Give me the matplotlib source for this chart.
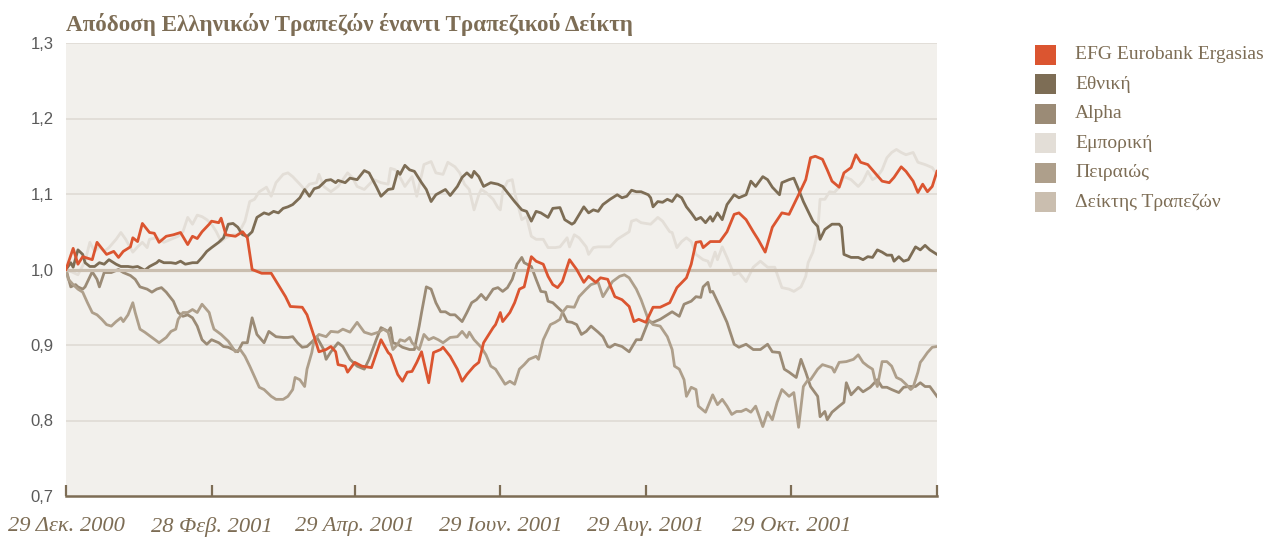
import numpy as np
import matplotlib.pyplot as plt
from matplotlib.patches import Rectangle

# ---------------------------------------------------------------------------
# Data (days since 29 Dec 2000, index value with base 1.0)
# ---------------------------------------------------------------------------

start = np.datetime64("2000-12-29")
tick_dates = ["2000-12-29", "2001-02-28", "2001-04-29", "2001-06-29",
              "2001-08-29", "2001-10-29", "2001-12-29"]
tick_labels = ["29 Δεκ. 2000", "28 Φεβ. 2001", "29 Απρ. 2001", "29 Ιουν. 2001",
               "29 Αυγ. 2001", "29 Οκτ. 2001", ""]
y_ticks = [0.7, 0.8, 0.9, 1.0, 1.1, 1.2, 1.3]
y_labels = ["0,7", "0,8", "0,9", "1,0", "1,1", "1,2", "1,3"]

names = ["EFG Eurobank Ergasias", "Εθνική", "Alpha", "Εμπορική", "Πειραιώς", "Δείκτης Τραπεζών"]
colors = ["#DB5530", "#7D6D55", "#9B8B76", "#E3DED7", "#AE9F8B", "#CABEAF"]

efg_days = [0, 3, 5, 7, 11, 13, 17, 20, 22, 24, 27, 28, 30, 32, 35, 37, 39, 42, 45, 48,
            51, 53, 55, 57, 60, 61, 64, 65, 67, 71, 74, 76, 78, 82, 86, 92, 94, 99, 101, 104,
            106, 109, 111, 113, 114, 117, 118, 121, 124, 128, 132, 135, 136, 139, 141, 143, 145, 147, 149, 152,
            154, 157, 158, 161, 164, 166, 168, 171, 173, 175, 178, 179, 180, 182, 183, 186, 188, 190, 192, 195,
            197, 200, 202, 204, 206, 208, 211, 214, 217, 219, 222, 224, 227, 230, 233, 236, 238, 240, 243, 246,
            249, 253, 256, 260, 262, 264, 266, 267, 270, 274, 277, 280, 282, 285, 288, 290, 293, 296, 300, 303,
            307, 310, 312, 314, 317, 319, 321, 324, 326, 329, 331, 333, 336, 339, 342, 345, 347, 350, 352, 355,
            357, 359, 361, 363, 365]
efg_vals = [1.000, 1.028, 1.007, 1.017, 1.013, 1.036, 1.020, 1.024, 1.016, 1.024, 1.030, 1.042, 1.037, 1.061, 1.049, 1.048, 1.036, 1.044, 1.046, 1.049,
            1.033, 1.044, 1.041, 1.050, 1.060, 1.064, 1.062, 1.068, 1.046, 1.044, 1.050, 1.042, 1.000, 0.995, 0.995, 0.964, 0.951, 0.950, 0.940, 0.911,
            0.891, 0.894, 0.898, 0.891, 0.874, 0.872, 0.864, 0.877, 0.872, 0.870, 0.907, 0.890, 0.887, 0.861, 0.852, 0.864, 0.865, 0.877, 0.891, 0.850,
            0.890, 0.894, 0.897, 0.885, 0.868, 0.852, 0.861, 0.872, 0.877, 0.903, 0.918, 0.923, 0.927, 0.943, 0.931, 0.943, 0.956, 0.974, 0.977, 1.017,
            1.011, 1.007, 0.991, 0.980, 0.976, 0.984, 1.013, 1.000, 0.983, 0.991, 0.983, 0.989, 0.987, 0.964, 0.960, 0.951, 0.931, 0.934, 0.930, 0.950,
            0.950, 0.956, 0.976, 0.989, 1.007, 1.036, 1.037, 1.029, 1.037, 1.037, 1.050, 1.073, 1.075, 1.066, 1.050, 1.040, 1.023, 1.056, 1.075, 1.073,
            1.099, 1.119, 1.148, 1.150, 1.146, 1.132, 1.117, 1.109, 1.128, 1.135, 1.152, 1.142, 1.139, 1.128, 1.117, 1.115, 1.122, 1.136, 1.130, 1.117,
            1.102, 1.113, 1.103, 1.110, 1.130]

eth_days = [0, 2, 3, 5, 7, 8, 10, 12, 14, 16, 18, 21, 23, 26, 28, 30, 33, 35, 38, 39,
            41, 44, 46, 48, 50, 53, 55, 57, 59, 61, 64, 66, 68, 70, 72, 74, 76, 78, 80, 83,
            85, 87, 89, 91, 93, 95, 98, 100, 102, 104, 106, 109, 111, 113, 114, 117, 119, 122, 125, 127,
            130, 132, 135, 137, 139, 140, 142, 144, 146, 149, 151, 153, 155, 159, 161, 164, 166, 168, 170, 171,
            173, 175, 178, 181, 183, 185, 188, 191, 193, 195, 197, 199, 202, 204, 207, 209, 212, 213, 217, 219,
            221, 223, 225, 228, 231, 233, 235, 237, 239, 241, 244, 245, 246, 248, 250, 252, 254, 256, 258, 260,
            262, 264, 266, 268, 270, 271, 273, 275, 277, 280, 282, 285, 287, 289, 292, 294, 296, 299, 300, 303,
            305, 307, 309, 311, 313, 315, 316, 318, 321, 324, 325, 326, 329, 332, 334, 336, 338, 340, 342, 344,
            346, 347, 349, 351, 353, 356, 358, 360, 362, 365]
eth_vals = [1.000, 1.009, 1.003, 1.026, 1.020, 1.009, 1.004, 1.004, 1.009, 1.007, 1.013, 1.007, 1.004, 1.004, 1.003, 1.004, 0.999, 1.004, 1.009, 1.012,
            1.009, 1.009, 1.008, 1.011, 1.007, 1.009, 1.009, 1.016, 1.024, 1.029, 1.036, 1.042, 1.060, 1.061, 1.056, 1.046, 1.044, 1.050, 1.069, 1.075,
            1.073, 1.077, 1.075, 1.081, 1.083, 1.086, 1.095, 1.106, 1.097, 1.107, 1.109, 1.118, 1.119, 1.115, 1.118, 1.115, 1.121, 1.119, 1.131, 1.128,
            1.110, 1.097, 1.106, 1.107, 1.130, 1.126, 1.138, 1.132, 1.130, 1.115, 1.106, 1.090, 1.099, 1.106, 1.098, 1.110, 1.122, 1.128, 1.122, 1.130,
            1.123, 1.110, 1.115, 1.113, 1.110, 1.102, 1.090, 1.079, 1.077, 1.064, 1.077, 1.075, 1.069, 1.081, 1.082, 1.066, 1.060, 1.062, 1.083, 1.075,
            1.079, 1.077, 1.086, 1.093, 1.099, 1.095, 1.097, 1.105, 1.103, 1.103, 1.099, 1.095, 1.083, 1.090, 1.089, 1.093, 1.090, 1.099, 1.095, 1.083,
            1.075, 1.066, 1.069, 1.062, 1.070, 1.064, 1.075, 1.066, 1.086, 1.099, 1.095, 1.099, 1.117, 1.110, 1.123, 1.119, 1.109, 1.099, 1.115, 1.119,
            1.121, 1.106, 1.090, 1.077, 1.064, 1.057, 1.040, 1.053, 1.060, 1.060, 1.056, 1.020, 1.016, 1.016, 1.013, 1.017, 1.016, 1.026, 1.023, 1.019,
            1.019, 1.011, 1.017, 1.011, 1.013, 1.030, 1.026, 1.032, 1.026, 1.020]

alpha_days = [0, 2, 4, 5, 7, 8, 11, 13, 14, 16, 19, 22, 24, 27, 29, 31, 34, 36, 38, 40,
              42, 45, 47, 49, 51, 53, 55, 57, 59, 61, 64, 66, 68, 70, 72, 74, 76, 78, 80, 83,
              85, 88, 91, 93, 95, 97, 99, 101, 104, 105, 108, 109, 111, 114, 116, 119, 122, 125, 127, 130,
              132, 135, 136, 137, 139, 141, 144, 146, 148, 149, 151, 153, 155, 157, 159, 161, 163, 166, 168, 170,
              172, 174, 176, 179, 181, 183, 185, 187, 189, 191, 192, 195, 197, 199, 201, 202, 204, 206, 208, 210,
              212, 214, 216, 218, 220, 223, 225, 227, 228, 230, 233, 236, 239, 241, 244, 246, 249, 252, 254, 257,
              259, 262, 264, 266, 267, 269, 270, 271, 274, 277, 280, 282, 285, 288, 291, 294, 296, 299, 301, 303,
              306, 308, 310, 312, 315, 316, 318, 319, 321, 324, 326, 327, 329, 332, 334, 337, 340, 342, 344, 346,
              349, 351, 353, 356, 358, 360, 362, 365]
alpha_vals = [1.000, 0.977, 0.980, 0.977, 0.974, 0.977, 0.997, 0.987, 0.977, 0.996, 0.996, 1.000, 0.996, 0.992, 0.987, 0.977, 0.974, 0.970, 0.974, 0.976,
              0.970, 0.958, 0.943, 0.938, 0.940, 0.936, 0.925, 0.907, 0.901, 0.907, 0.903, 0.898, 0.897, 0.894, 0.891, 0.903, 0.903, 0.936, 0.914, 0.903,
              0.918, 0.911, 0.910, 0.910, 0.911, 0.903, 0.897, 0.898, 0.907, 0.911, 0.894, 0.881, 0.891, 0.903, 0.898, 0.881, 0.872, 0.868, 0.881, 0.907,
              0.923, 0.918, 0.923, 0.903, 0.901, 0.897, 0.894, 0.894, 0.925, 0.943, 0.977, 0.974, 0.956, 0.944, 0.944, 0.940, 0.940, 0.931, 0.943, 0.956,
              0.960, 0.967, 0.960, 0.974, 0.976, 0.971, 0.976, 0.987, 1.007, 1.016, 1.009, 1.004, 0.987, 0.971, 0.970, 0.958, 0.956, 0.950, 0.944, 0.931,
              0.930, 0.927, 0.914, 0.918, 0.925, 0.917, 0.911, 0.898, 0.897, 0.901, 0.898, 0.891, 0.907, 0.907, 0.931, 0.930, 0.934, 0.940, 0.944, 0.938,
              0.954, 0.958, 0.964, 0.963, 0.977, 0.983, 0.970, 0.971, 0.951, 0.930, 0.901, 0.897, 0.901, 0.894, 0.894, 0.901, 0.891, 0.890, 0.868, 0.864,
              0.857, 0.881, 0.864, 0.845, 0.832, 0.805, 0.812, 0.801, 0.811, 0.819, 0.824, 0.850, 0.834, 0.844, 0.838, 0.844, 0.854, 0.844, 0.844, 0.841,
              0.837, 0.844, 0.845, 0.845, 0.850, 0.845, 0.845, 0.832]

emp_days = [0, 3, 5, 8, 10, 12, 14, 16, 18, 21, 23, 25, 28, 30, 32, 34, 35, 38, 41, 44,
            47, 49, 51, 53, 55, 57, 59, 61, 63, 65, 67, 70, 72, 75, 77, 79, 81, 84, 86, 88,
            91, 93, 95, 98, 100, 102, 105, 106, 108, 111, 114, 116, 118, 120, 122, 125, 129, 132, 135, 136,
            138, 140, 142, 145, 147, 150, 153, 155, 158, 160, 163, 165, 167, 169, 171, 173, 174, 176, 179, 181,
            182, 183, 185, 187, 188, 191, 193, 195, 197, 200, 202, 205, 207, 210, 211, 213, 215, 218, 219, 221,
            223, 225, 228, 231, 233, 236, 237, 239, 241, 245, 248, 250, 253, 254, 256, 258, 260, 262, 264, 267,
            269, 270, 272, 273, 275, 277, 280, 282, 285, 288, 291, 294, 297, 300, 303, 305, 308, 310, 311, 313,
            315, 316, 318, 320, 322, 324, 326, 329, 332, 334, 336, 338, 340, 342, 344, 346, 348, 350, 352, 355,
            357, 360, 363, 365]
emp_vals = [1.000, 0.996, 0.993, 1.011, 1.036, 1.024, 1.030, 1.024, 1.029, 1.040, 1.049, 1.040, 1.023, 1.030, 1.036, 1.029, 1.040, 1.042, 1.036, 1.040,
            1.044, 1.050, 1.069, 1.060, 1.072, 1.070, 1.066, 1.060, 1.050, 1.037, 1.042, 1.046, 1.046, 1.064, 1.090, 1.093, 1.103, 1.109, 1.097, 1.115,
            1.126, 1.128, 1.123, 1.113, 1.106, 1.113, 1.115, 1.126, 1.110, 1.103, 1.110, 1.119, 1.128, 1.122, 1.110, 1.106, 1.119, 1.115, 1.113, 1.134,
            1.132, 1.122, 1.110, 1.123, 1.097, 1.139, 1.143, 1.128, 1.126, 1.142, 1.136, 1.128, 1.113, 1.106, 1.079, 1.099, 1.106, 1.102, 1.093, 1.082,
            1.079, 1.103, 1.117, 1.119, 1.102, 1.066, 1.070, 1.044, 1.040, 1.040, 1.029, 1.029, 1.030, 1.042, 1.030, 1.046, 1.042, 1.030, 1.020, 1.029,
            1.030, 1.030, 1.030, 1.040, 1.044, 1.050, 1.064, 1.066, 1.062, 1.060, 1.069, 1.064, 1.050, 1.049, 1.029, 1.037, 1.042, 1.037, 1.020, 1.013,
            1.011, 1.004, 1.023, 1.013, 1.030, 1.016, 0.993, 0.996, 0.984, 1.003, 1.011, 1.003, 1.003, 0.976, 0.974, 0.971, 0.977, 0.991, 1.009, 1.023,
            1.049, 1.093, 1.093, 1.103, 1.102, 1.109, 1.123, 1.119, 1.110, 1.117, 1.130, 1.119, 1.123, 1.132, 1.148, 1.155, 1.159, 1.155, 1.152, 1.155,
            1.142, 1.139, 1.135, 1.126]

pir_days = [0, 1, 3, 5, 7, 9, 11, 13, 15, 17, 19, 21, 23, 24, 26, 28, 29, 31, 33, 36,
            39, 42, 44, 46, 47, 49, 51, 53, 55, 57, 60, 61, 62, 65, 68, 71, 73, 75, 77, 79,
            81, 83, 86, 88, 91, 93, 95, 96, 98, 100, 101, 103, 104, 106, 109, 111, 114, 116, 119, 122,
            125, 128, 131, 133, 135, 137, 139, 140, 142, 144, 145, 148, 150, 152, 154, 156, 158, 161, 164, 166,
            168, 169, 171, 174, 176, 178, 180, 182, 184, 186, 188, 190, 192, 194, 197, 198, 200, 203, 205, 207,
            208, 210, 213, 215, 218, 220, 223, 225, 227, 229, 232, 234, 236, 239, 241, 244, 246, 249, 252, 254,
            255, 257, 259, 260, 262, 264, 265, 268, 271, 273, 275, 277, 279, 281, 283, 285, 287, 289, 291, 292,
            294, 296, 298, 300, 303, 305, 307, 309, 311, 312, 315, 317, 319, 321, 322, 324, 327, 330, 332, 334,
            336, 338, 339, 340, 342, 344, 346, 348, 350, 352, 354, 355, 357, 358, 359, 361, 363, 365]
pir_vals = [1.000, 0.987, 0.980, 0.974, 0.970, 0.956, 0.943, 0.940, 0.934, 0.927, 0.925, 0.931, 0.936, 0.931, 0.940, 0.956, 0.943, 0.921, 0.917, 0.910,
            0.903, 0.910, 0.918, 0.921, 0.934, 0.943, 0.943, 0.947, 0.943, 0.954, 0.943, 0.931, 0.921, 0.914, 0.905, 0.891, 0.894, 0.885, 0.872, 0.858,
            0.844, 0.841, 0.832, 0.828, 0.828, 0.832, 0.841, 0.857, 0.854, 0.845, 0.868, 0.890, 0.907, 0.914, 0.911, 0.918, 0.917, 0.921, 0.917, 0.930,
            0.917, 0.914, 0.917, 0.921, 0.917, 0.894, 0.901, 0.907, 0.905, 0.910, 0.903, 0.894, 0.914, 0.907, 0.910, 0.907, 0.903, 0.910, 0.911, 0.918,
            0.910, 0.917, 0.907, 0.897, 0.887, 0.872, 0.868, 0.858, 0.848, 0.852, 0.848, 0.868, 0.874, 0.881, 0.885, 0.881, 0.907, 0.927, 0.930, 0.934,
            0.943, 0.951, 0.950, 0.964, 0.974, 0.980, 0.983, 0.964, 0.974, 0.984, 0.991, 0.993, 0.989, 0.974, 0.960, 0.934, 0.927, 0.925, 0.911, 0.894,
            0.872, 0.868, 0.854, 0.832, 0.844, 0.841, 0.819, 0.811, 0.834, 0.821, 0.828, 0.819, 0.808, 0.812, 0.812, 0.815, 0.811, 0.819, 0.801, 0.792,
            0.811, 0.801, 0.824, 0.841, 0.832, 0.837, 0.791, 0.845, 0.854, 0.854, 0.868, 0.874, 0.872, 0.870, 0.864, 0.877, 0.878, 0.881, 0.887, 0.877,
            0.872, 0.868, 0.854, 0.845, 0.878, 0.878, 0.872, 0.857, 0.854, 0.848, 0.841, 0.844, 0.864, 0.877, 0.881, 0.890, 0.897, 0.898]

index_days = [0, 365]
index_vals = [1.0, 1.0]

series = [
    (efg_days, efg_vals),
    (eth_days, eth_vals),
    (alpha_days, alpha_vals),
    (emp_days, emp_vals),
    (pir_days, pir_vals),
    (index_days, index_vals),
]

# ---------------------------------------------------------------------------
# Figure
# ---------------------------------------------------------------------------

brown = "#7D6D55"
W, H = 1266, 538
fig = plt.figure(figsize=(W / 100, H / 100), dpi=100)
ax = fig.add_axes([66 / W, 1 - 496 / H, (937 - 66) / W, (496 - 43) / H])
ax.set_facecolor("#F2F0EC")

# draw order: lightest lines at the back, EFG on top
zorders = [6, 4, 3, 2, 3, 5]
widths = [2.0, 2.0, 2.0, 2.0, 2.0, 2.3]
for (d, v), c, z, lw in zip(series, colors, zorders, widths):
    ax.plot(d, v, color=c, linewidth=lw, zorder=z, solid_joinstyle="round")

for g in [0.8, 0.9, 1.1, 1.2, 1.3]:
    ax.axhline(g, color="#DFDBD4", linewidth=1.2, zorder=1)

ax.set_xlim(0, 365)
ax.set_ylim(0.7, 1.3)

tick_pos = [(np.datetime64(t) - start).astype(int) for t in tick_dates]
ax.set_xticks(tick_pos)
ax.set_xticklabels(tick_labels, family="Liberation Serif", style="italic",
                   fontsize=16.2, color=brown)
ax.tick_params(axis="x", direction="in", length=8, width=1.6, color=brown, pad=15)

ax.set_yticks(y_ticks)
ax.set_yticklabels(y_labels, family="Liberation Sans", fontsize=12, color="#5A5A5A")
ax.tick_params(axis="y", length=0, pad=9)

for s in ["top", "right", "left"]:
    ax.spines[s].set_visible(False)
ax.spines["bottom"].set_color(brown)
ax.spines["bottom"].set_linewidth(1.8)

fig.text(66 / W, 1 - 25 / H, "Απόδοση Ελληνικών Τραπεζών έναντι Τραπεζικού Δείκτη",
         family="Liberation Serif", weight="bold", fontsize=16.6, color=brown,
         ha="left", va="center")

# legend
for i, (name, c) in enumerate(zip(names, colors)):
    yc = 55 + i * 29.4
    fig.add_artist(Rectangle((1035 / W, 1 - (yc + 10) / H), 21 / W, 20 / H,
                             transform=fig.transFigure, facecolor=c, edgecolor="none"))
    fig.text(1075 / W, 1 - yc / H, name, family="Liberation Serif", fontsize=14,
             color=brown, ha="left", va="center")

fig.savefig("out.png", dpi=100)
